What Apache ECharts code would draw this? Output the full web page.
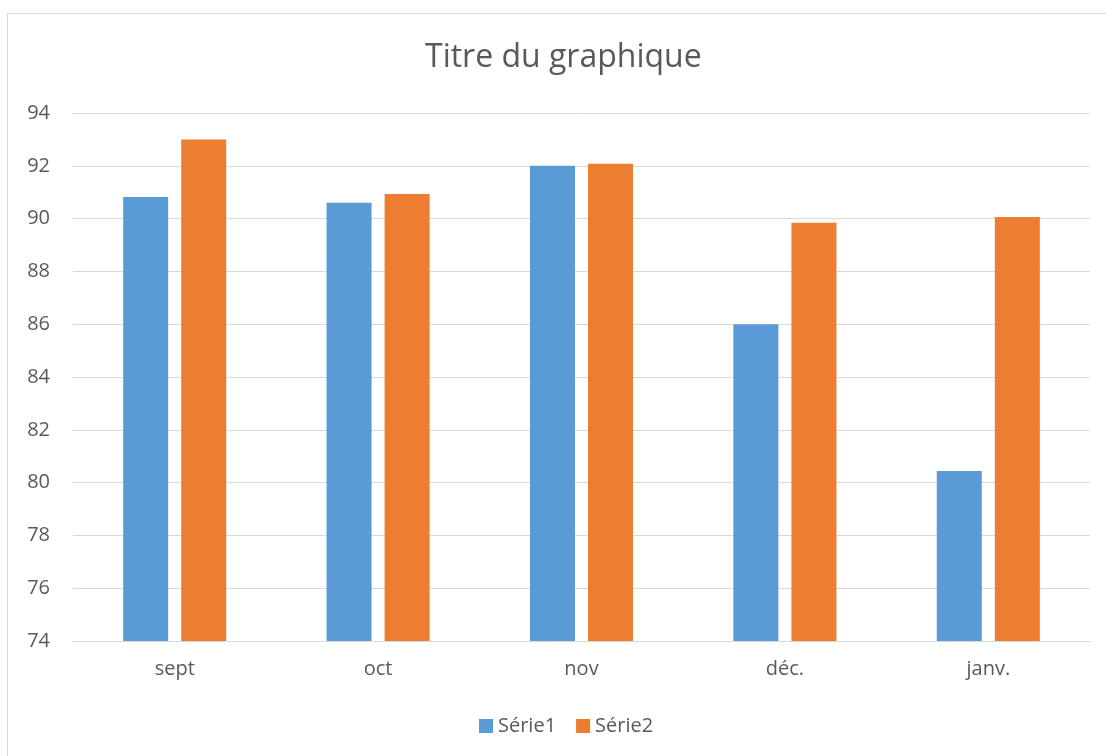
<!DOCTYPE html>
<html>
<head>
<meta charset="utf-8">
<script src="https://cdn.jsdelivr.net/npm/echarts@6/dist/echarts.min.js"></script>
<style>
html,body{margin:0;padding:0;background:#fff;}
#chart{width:1106px;height:756px;}
</style>
</head>
<body>
<div id="chart"></div>
<script>
const categories = ['sept', 'oct', 'nov', 'déc.', 'janv.'];
const serie1 = [90.82, 90.6, 92.0, 86.0, 80.44];
const serie2 = [93.0, 90.93, 92.08, 89.84, 90.06];
const seriesNames = ['Série1', 'Série2'];
const yTicks = { min: 74, max: 94, interval: 2 };

const font = '"Open Sans", "Noto Sans", sans-serif';
const chart = echarts.init(document.getElementById('chart'));
chart.setOption({
  animation: false,
  textStyle: { fontFamily: font },
  title: {
    text: 'Titre du graphique',
    left: 425,
    top: 42,
    padding: 0,
    textStyle: { fontFamily: font, fontSize: 32, fontWeight: 'normal', color: '#595959' }
  },
  graphic: [{
    type: 'rect',
    shape: { x: 7.5, y: 13.5, width: 1110, height: 760 },
    style: { fill: 'none', stroke: '#d9d9d9', lineWidth: 1 },
    silent: true
  }],
  legend: {
    top: 711,
    left: 474,
    itemWidth: 14,
    itemHeight: 14,
    itemGap: 20,
    icon: 'rect',
    textStyle: { fontFamily: font, fontSize: 20, color: '#595959' },
    data: seriesNames
  },
  grid: { left: 73, right: 16, top: 113, bottom: 115, containLabel: false },
  xAxis: {
    type: 'category',
    data: categories,
    axisLine: { lineStyle: { color: '#d9d9d9', width: 1 } },
    axisTick: { show: false },
    axisLabel: { fontFamily: font, fontSize: 20, color: '#595959', margin: 18 }
  },
  yAxis: {
    type: 'value',
    min: yTicks.min,
    max: yTicks.max,
    interval: yTicks.interval,
    axisLine: { show: false },
    axisTick: { show: false },
    splitLine: { lineStyle: { color: '#d9d9d9', width: 1 } },
    axisLabel: { fontFamily: font, fontSize: 20, color: '#595959', margin: 23 }
  },
  series: [
    { name: seriesNames[0], type: 'bar', data: serie1, barWidth: 45, barGap: '29%',
      itemStyle: { color: '#5b9bd5' } },
    { name: seriesNames[1], type: 'bar', data: serie2, barWidth: 45,
      itemStyle: { color: '#ed7d31' } }
  ]
});
</script>
</body>
</html>
